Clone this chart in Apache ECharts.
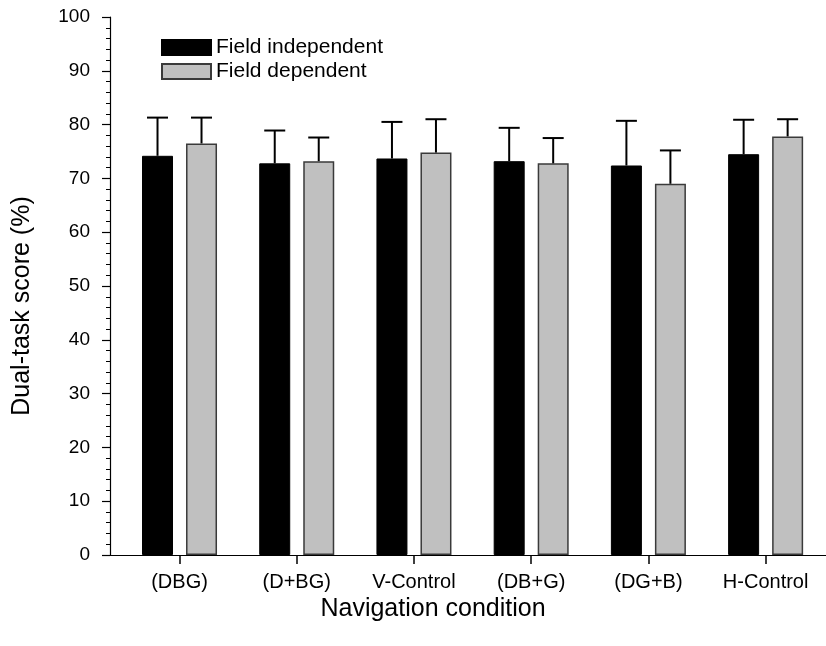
<!DOCTYPE html>
<html>
<head>
<meta charset="utf-8">
<script src="https://cdn.jsdelivr.net/npm/echarts@6/dist/echarts.min.js"></script>
<style>
  html, body { margin: 0; padding: 0; background: #fff; }
  #chart { width: 826px; height: 646px; }
</style>
</head>
<body>
<div id="chart"></div>
<script>
const categories = ['(DBG)', '(D+BG)', 'V-Control', '(DB+G)', '(DG+B)', 'H-Control'];
const seriesNames = ['Field independent', 'Field dependent'];
const indepMean = [74.2, 72.8, 73.7, 73.2, 72.4, 74.5];
const indepErr  = [7.1, 6.1, 6.8, 6.2, 8.3, 6.4];
const depMean   = [76.5, 73.2, 74.8, 72.8, 69.0, 77.8];
const depErr    = [4.8, 4.4, 6.2, 4.7, 6.2, 3.2];
const yTicks = [0, 10, 20, 30, 40, 50, 60, 70, 80, 90, 100];

const FONT = "'Liberation Sans', Arial, Helvetica, sans-serif";
const catIdx = categories.map((c, i) => i);

function errSeries(means, errs, dx) {
  return {
    type: 'custom',
    silent: true,
    z: 5,
    clip: false,
    data: means.map((m, i) => [i, m, errs[i]]),
    encode: { x: 0, y: 1 },
    renderItem: function (params, api) {
      const base = api.coord([api.value(0), api.value(1)]);
      const top = api.coord([api.value(0), api.value(1) + api.value(2)]);
      const x = base[0] + dx;
      const half = 10.5;
      const st = { stroke: '#000', lineWidth: 2 };
      return {
        type: 'group',
        children: [
          { type: 'line', shape: { x1: x, y1: base[1], x2: x, y2: top[1] }, style: st },
          { type: 'line', shape: { x1: x - half, y1: top[1], x2: x + half, y2: top[1] }, style: st }
        ]
      };
    }
  };
}

const chart = echarts.init(document.getElementById('chart'), null, { renderer: 'canvas' });
chart.setOption({
  animation: false,
  backgroundColor: '#ffffff',
  textStyle: { fontFamily: FONT },
  grid: { left: 110, right: 0, top: 17, bottom: 91 },
  legend: {
    data: seriesNames,
    orient: 'vertical',
    left: 156,
    top: 32,
    icon: 'rect',
    itemWidth: 49,
    itemHeight: 15,
    itemGap: 3,
    itemTextGap: 11,
    textStyle: { fontSize: 21, color: '#000', fontFamily: FONT },
    selectedMode: false
  },
  xAxis: {
    type: 'value',
    min: -0.593,
    max: 5.515,
    name: 'Navigation condition',
    nameLocation: 'middle',
    nameGap: 35,
    nameTextStyle: { fontSize: 25, color: '#000', fontFamily: FONT, padding: [0, 70, 0, 0] },
    splitLine: { show: false },
    axisLine: { show: true, onZero: false, lineStyle: { color: '#000', width: 1.2 } },
    axisTick: { show: true, length: 9, lineStyle: { color: '#000', width: 1.5 }, customValues: catIdx },
    axisLabel: {
      customValues: catIdx,
      formatter: v => categories[Math.round(v)],
      fontSize: 20, color: '#000', margin: 17, fontFamily: FONT
    }
  },
  yAxis: {
    type: 'value',
    min: 0,
    max: 100,
    interval: 10,
    name: 'Dual-task score (%)',
    nameLocation: 'middle',
    nameGap: 75,
    nameTextStyle: { fontSize: 25, color: '#000', fontFamily: FONT, padding: [0, 40, 0, 0] },
    splitLine: { show: false },
    axisLine: { show: true, onZero: false, lineStyle: { color: '#000', width: 1.2 } },
    axisTick: { show: true, length: 8, lineStyle: { color: '#000', width: 1.2 } },
    minorTick: { show: true, splitNumber: 5, length: 4, lineStyle: { color: '#000', width: 1 } },
    axisLabel: {
      fontSize: 19, color: '#000', margin: 20, fontFamily: FONT,
      customValues: yTicks
    }
  },
  series: [
    {
      name: seriesNames[0],
      type: 'bar',
      barWidth: 31,
      barGap: '42%',
      data: indepMean.map((v, i) => [i, v]),
      itemStyle: { color: '#000000', borderColor: '#000000', borderWidth: 1 }
    },
    {
      name: seriesNames[1],
      type: 'bar',
      barWidth: 31,
      barGap: '42%',
      data: depMean.map((v, i) => [i, v]),
      itemStyle: { color: '#c0c0c0', borderColor: '#3a3a3a', borderWidth: 1.5 }
    },
    errSeries(indepMean, indepErr, -22),
    errSeries(depMean, depErr, 22)
  ]
});
</script>
</body>
</html>
